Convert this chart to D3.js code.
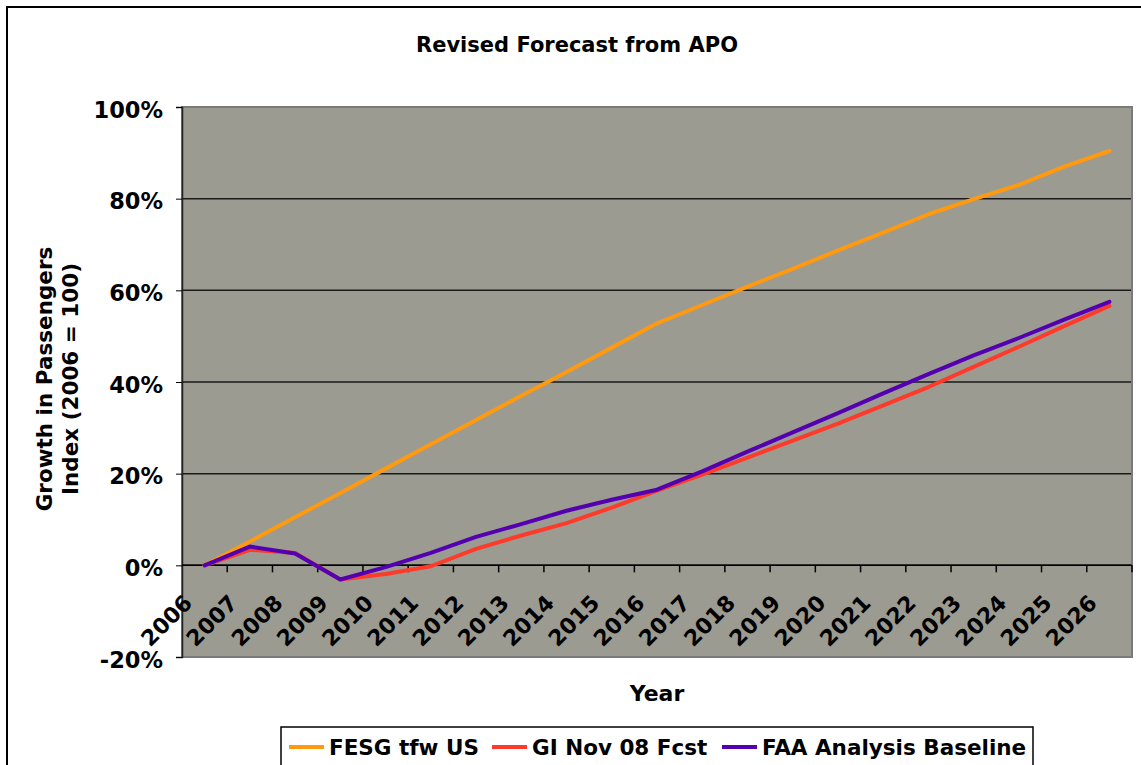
<!DOCTYPE html>
<html>
<head>
<meta charset="utf-8">
<script src="https://cdn.jsdelivr.net/npm/d3@7"></script>
<style>
  body { margin: 0; background: #fff; }
  text { font-family: "DejaVu Sans", Verdana, sans-serif; font-weight: bold; fill: #000; }
</style>
</head>
<body>
<svg width="1141" height="765"></svg>
<script>
// values, in percent growth over 2006
var years = ["2006","2007","2008","2009","2010","2011","2012","2013","2014","2015","2016",
             "2017","2018","2019","2020","2021","2022","2023","2024","2025","2026"];
var fesg = [0, 5.2, 10.5, 15.8, 21.1, 26.4, 31.7, 37.0, 42.2, 47.5, 52.8,
            56.8, 60.8, 64.7, 68.7, 72.6, 76.6, 79.9, 83.0, 87.0, 90.4];
var giNov08 = [0, 3.4, 2.7, -3.1, -1.9, -0.2, 3.6, 6.5, 9.2, 12.6, 16.3,
               19.8, 23.5, 27.2, 30.9, 34.9, 38.9, 43.3, 47.7, 52.2, 56.6];
var faaBase = [0, 4.1, 2.6, -3.1, -0.4, 2.7, 6.2, 9.0, 11.9, 14.3, 16.5,
               20.5, 24.8, 29.0, 33.2, 37.5, 41.7, 45.8, 49.6, 53.6, 57.5];
var yTicks = [-20, 0, 20, 40, 60, 80, 100];
var seriesNames = ["FESG tfw US", "GI Nov 08 Fcst", "FAA Analysis Baseline"];
var seriesColors = ["#ff9a10", "#ff3a2a", "#5400b0"];

var svg = d3.select("svg");

var plot = {left: 182, top: 107, right: 1132, bottom: 657};

// outer chart frame (runs off the window on right and bottom)
svg.append("rect")
    .attr("x", 7).attr("y", 7)
    .attr("width", 1160).attr("height", 790)
    .attr("fill", "#fff").attr("stroke", "#000").attr("stroke-width", 2);

var x = d3.scaleBand().domain(years).range([plot.left, plot.right]).padding(0);
var y = d3.scaleLinear().domain([-20, 100]).range([plot.bottom, plot.top]);

svg.append("rect")
    .attr("x", plot.left).attr("y", plot.top)
    .attr("width", plot.right - plot.left).attr("height", plot.bottom - plot.top)
    .attr("fill", "#9b9b92");

// gridlines
svg.append("g")
  .selectAll("line")
  .data(yTicks.filter(function(d) { return d > -20 && d < 100; }))
  .enter().append("line")
    .attr("x1", plot.left).attr("x2", plot.right)
    .attr("y1", function(d) { return y(d); })
    .attr("y2", function(d) { return y(d); })
    .attr("stroke", "#1a1a1a").attr("stroke-width", 1.5);

// plot border
svg.append("rect")
    .attr("x", plot.left).attr("y", plot.top)
    .attr("width", plot.right - plot.left).attr("height", plot.bottom - plot.top)
    .attr("fill", "none").attr("stroke", "#7a7a7a").attr("stroke-width", 2);

// y axis
var yAxis = svg.append("g")
    .attr("transform", "translate(" + plot.left + ",0)")
    .call(d3.axisLeft(y).tickValues(yTicks).tickSize(6).tickPadding(13)
        .tickFormat(function(d) { return d + "%"; }));
yAxis.select(".domain").attr("stroke", "#222").attr("stroke-width", 1.5);
yAxis.selectAll(".tick line").attr("stroke", "#000");
yAxis.selectAll(".tick text")
    .attr("font-size", 22.5).attr("font-family", "DejaVu Sans").attr("font-weight", "bold")
    .attr("dy", "0.45em");

// x axis sits on the 0% line, ticks at category boundaries
var xAxis = svg.append("g")
    .attr("transform", "translate(0," + y(0) + ")");
xAxis.append("line")
    .attr("x1", plot.left).attr("x2", plot.right)
    .attr("stroke", "#000").attr("stroke-width", 1.5);
xAxis.selectAll(".tk")
  .data(years)
  .enter().append("line")
    .attr("x1", function(d) { return x(d) + x.bandwidth(); })
    .attr("x2", function(d) { return x(d) + x.bandwidth(); })
    .attr("y1", 0).attr("y2", 7)
    .attr("stroke", "#000").attr("stroke-width", 1.5);
xAxis.selectAll(".lbl")
  .data(years)
  .enter().append("text")
    .attr("font-size", 22)
    .attr("text-anchor", "end")
    .attr("transform", function(d) {
      return "translate(" + (x(d) + x.bandwidth() / 2 - 11) + ",39) rotate(-45)";
    })
    .text(function(d) { return d; });

// lines
var line = d3.line()
    .x(function(d, i) { return x(years[i]) + x.bandwidth() / 2; })
    .y(function(d) { return y(d); });

[fesg, giNov08, faaBase].forEach(function(s, k) {
  svg.append("path")
      .datum(s)
      .attr("fill", "none")
      .attr("stroke", seriesColors[k])
      .attr("stroke-width", 4)
      .attr("stroke-linejoin", "round")
      .attr("stroke-linecap", "round")
      .attr("d", line);
});

// titles
svg.append("text")
    .attr("x", 577).attr("y", 52)
    .attr("text-anchor", "middle").attr("font-size", 21)
    .text("Revised Forecast from APO");

svg.append("text")
    .attr("x", (plot.left + plot.right) / 2).attr("y", 701)
    .attr("text-anchor", "middle").attr("font-size", 22)
    .text("Year");

var yt = svg.append("text")
    .attr("transform", "translate(57,379) rotate(-90)")
    .attr("text-anchor", "middle").attr("font-size", 21.5);
yt.append("tspan").attr("x", 0).attr("dy", "-0.25em").text("Growth in Passengers");
yt.append("tspan").attr("x", 0).attr("dy", "1.22em").text("Index (2006 = 100)");

// legend
var legendX = [289, 492, 722];
var legend = svg.append("g");
legend.append("rect")
    .attr("x", 281).attr("y", 727)
    .attr("width", 752).attr("height", 40)
    .attr("fill", "#fff").attr("stroke", "#000").attr("stroke-width", 1.5);
var item = legend.selectAll(".item")
  .data(seriesNames)
  .enter().append("g")
    .attr("transform", function(d, i) { return "translate(" + legendX[i] + ",747)"; });
item.append("line")
    .attr("x1", 0).attr("x2", 35)
    .attr("stroke", function(d, i) { return seriesColors[i]; })
    .attr("stroke-width", 4);
item.append("text")
    .attr("x", 40).attr("dy", "0.36em")
    .attr("font-size", 21.5)
    .attr("font-family", "DejaVu Sans Condensed, DejaVu Sans")
    .text(function(d) { return d; });
</script>
</body>
</html>
